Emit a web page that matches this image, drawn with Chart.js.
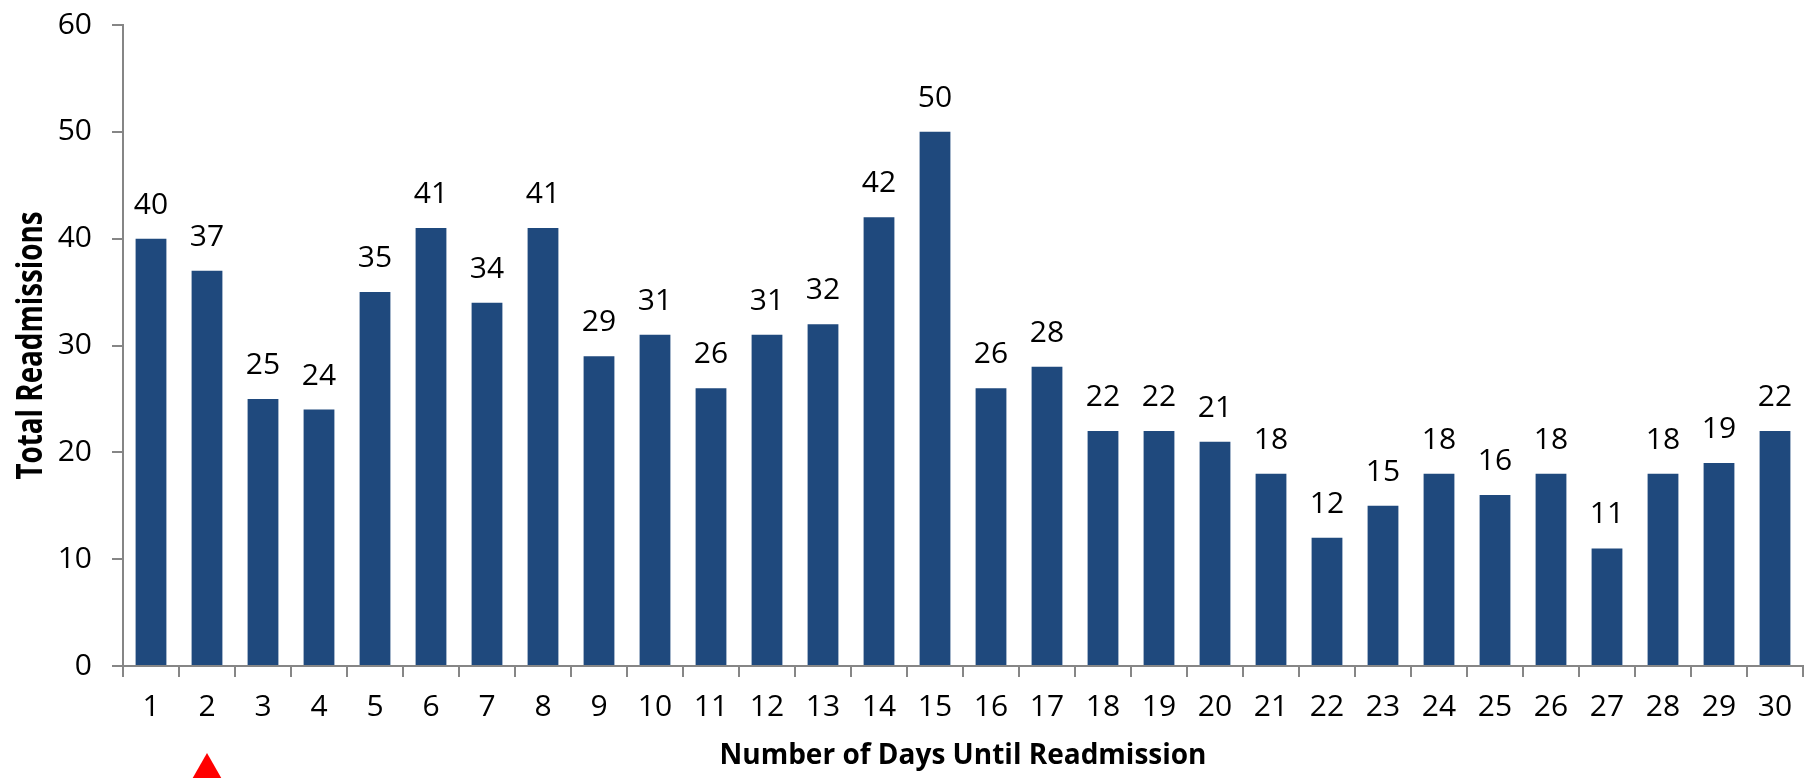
<!DOCTYPE html>
<html lang="en">
<head>
  <meta charset="UTF-8">
  <title>Readmissions by Day</title>
  <script src="https://cdn.jsdelivr.net/npm/chart.js"></script>
  <style>
    html, body { margin: 0; padding: 0; background: #fff; }
    canvas { display: block; }
  </style>
</head>
<body>
  <canvas id="readmitChart" width="1807" height="778"></canvas>

  <script>
    // days 1..30 after discharge
    const days = ["1", "2", "3", "4", "5", "6", "7", "8", "9", "10",
                  "11", "12", "13", "14", "15", "16", "17", "18", "19", "20",
                  "21", "22", "23", "24", "25", "26", "27", "28", "29", "30"];
    const readmissions = [40, 37, 25, 24, 35, 41, 34, 41, 29, 31,
                          26, 31, 32, 42, 50, 26, 28, 22, 22, 21,
                          18, 12, 15, 18, 16, 18, 11, 18, 19, 22];
    const yTicks = [0, 10, 20, 30, 40, 50, 60];
    const markedDay = "2";
    const yTitle = "Total Readmissions";

    const axisGray = "#868686";
    const textFont = "'Open Sans', sans-serif";

    // numbers above each bar
    const valueLabels = {
      id: "valueLabels",
      afterDatasetsDraw(chart) {
        const ctx = chart.ctx;
        const meta = chart.getDatasetMeta(0);
        ctx.save();
        ctx.font = "30px " + textFont;
        ctx.fillStyle = "#000";
        ctx.textAlign = "center";
        ctx.textBaseline = "alphabetic";
        meta.data.forEach((bar, i) => {
          ctx.fillText(String(readmissions[i]), bar.x, bar.y - 25);
        });
        ctx.restore();
      }
    };

    // vertical axis title, squeezed along its length
    const sideTitle = {
      id: "sideTitle",
      afterDraw(chart) {
        const ctx = chart.ctx;
        const area = chart.chartArea;
        ctx.save();
        ctx.font = "bold 36px " + textFont;
        ctx.fillStyle = "#000";
        ctx.textAlign = "center";
        ctx.textBaseline = "alphabetic";
        const w = ctx.measureText(yTitle).width;
        ctx.translate(42, (area.top + area.bottom) / 2);
        ctx.rotate(-Math.PI / 2);
        ctx.scale(268 / w, 1);
        ctx.fillText(yTitle, 0, 0);
        ctx.restore();
      }
    };

    // red pointer under the highlighted day
    const dayMarker = {
      id: "dayMarker",
      afterDraw(chart) {
        const ctx = chart.ctx;
        const x = chart.scales.x.getPixelForValue(days.indexOf(markedDay));
        const top = chart.height - 25;
        ctx.save();
        ctx.fillStyle = "#ff0000";
        ctx.beginPath();
        ctx.moveTo(x, top);
        ctx.lineTo(x + 16, top + 28);
        ctx.lineTo(x - 16, top + 28);
        ctx.closePath();
        ctx.fill();
        ctx.restore();
      }
    };

    new Chart(document.getElementById("readmitChart"), {
      type: "bar",
      data: {
        labels: days,
        datasets: [{
          data: readmissions,
          backgroundColor: "#1F497D",
          categoryPercentage: 1.0,
          barPercentage: 0.55
        }]
      },
      options: {
        responsive: false,
        animation: false,
        layout: { padding: { top: 25, right: 4, bottom: 0, left: 0 } },
        plugins: {
          legend: { display: false },
          tooltip: { enabled: false }
        },
        scales: {
          x: {
            grid: {
              display: true,
              offset: true,
              drawOnChartArea: false,
              drawTicks: true,
              tickLength: 11,
              color: axisGray,
              lineWidth: 2
            },
            border: { display: true, color: axisGray, width: 2 },
            ticks: {
              color: "#000",
              padding: 12,
              maxRotation: 0,
              autoSkip: false,
              font: { family: textFont, size: 30 }
            },
            title: {
              display: true,
              text: "Number of Days Until Readmission",
              color: "#000",
              padding: { top: 0, bottom: 5 },
              font: { family: textFont, size: 28, weight: "bold" }
            },
            afterFit(scale) { scale.height = 112; }
          },
          y: {
            min: yTicks[0],
            max: yTicks[yTicks.length - 1],
            grid: {
              display: true,
              drawOnChartArea: false,
              drawTicks: true,
              tickLength: 11,
              color: axisGray,
              lineWidth: 2
            },
            border: { display: true, color: axisGray, width: 2 },
            afterBuildTicks(scale) {
              scale.ticks = yTicks.map(v => ({ value: v }));
            },
            ticks: {
              color: "#000",
              padding: 20,
              font: { family: textFont, size: 30 }
            },
            title: { display: false },
            afterFit(scale) {
              scale.width = 123;
              scale.paddingTop = 0;
              scale.paddingBottom = 0;
            }
          }
        }
      },
      plugins: [valueLabels, sideTitle, dayMarker]
    });
  </script>
</body>
</html>
